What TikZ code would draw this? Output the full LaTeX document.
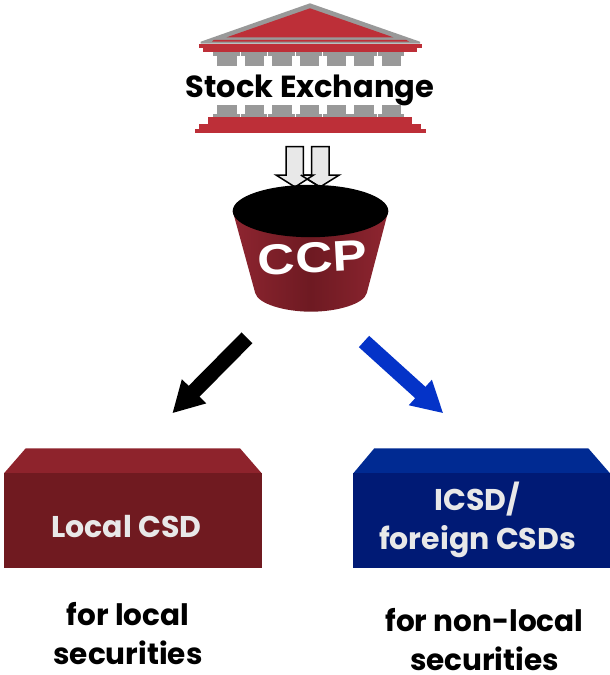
\documentclass[tikz,border=0pt]{standalone}
\usepackage{fontspec}
\setmainfont{Poppins}
\newfontfamily\ccpfont{Liberation Sans}
\usetikzlibrary{arrows.meta}
\definecolor{templered}{HTML}{BD2F38}
\definecolor{templegray}{HTML}{999999}
\definecolor{redfront}{HTML}{701A20}
\definecolor{redtop}{HTML}{8E232C}
\definecolor{bluefront}{HTML}{001A75}
\definecolor{bluetop}{HTML}{002A92}
\definecolor{lighttext}{HTML}{E8E8E8}
\definecolor{arrowblue}{HTML}{0433C8}
\definecolor{ccpedge}{HTML}{8E2530}
\definecolor{ccpmid}{HTML}{6E1A22}
\tikzset{
  x=1pt,y=-1pt,
  redblock/.style={fill=templered,draw=none},
  graycol/.style={fill=templegray,draw=none},
  downarrow/.style={fill=black!9,draw=black,line width=1.5pt,line join=miter},
  bigarrow/.style={line width=15.3pt,-{Triangle[length=31pt,width=32pt]}},
  label/.style={font=\bfseries\fontsize{29.5}{39}\selectfont,align=center,text=black,inner sep=0pt},
  boxlabel/.style={font=\bfseries\fontsize{30}{39.3}\selectfont,align=center,text=lighttext,inner sep=0pt},
}
\begin{document}
\begin{tikzpicture}
\useasboundingbox (0,0) rectangle (610,675);
% temple roof
\fill[templegray] (310,3.3) -- (420,41.7) -- (420,43.5) -- (200.7,43.5) -- (200.7,41.7) -- cycle;
\fill[templered] (310,8.3) -- (393.3,37.3) -- (226.7,37.3) -- cycle;
\fill[templered] (212,41.5) -- (214,39.8) -- (406,39.8) -- (409,41.5) -- cycle;
% temple entablature
\fill[redblock] (199.3,43.5) rectangle (422.3,48.3);
\fill[redblock] (202.7,48.3) rectangle (417.3,52.3);
% columns
\foreach \cx in {0,...,6}{
  \fill[graycol] (217.3+27.4*\cx-4,52.3) rectangle (236.7+27.4*\cx+3.3,55.7);
  \fill[graycol] (217.3+27.4*\cx,55.7) rectangle (236.7+27.4*\cx,65.7);
  \fill[graycol] (217.3+27.4*\cx,105) rectangle (236.7+27.4*\cx,114);
  \fill[graycol] (217.3+27.4*\cx-4,114) rectangle (236.7+27.4*\cx+3.3,117.3);
}
% temple base
\fill[redblock] (208.3,117.3) rectangle (411.7,124);
\fill[redblock] (199.3,124) rectangle (420.7,129.2);
\fill[redblock] (195,129.2) rectangle (425.7,133.3);
\node[label,anchor=base,font=\bfseries\fontsize{30.5}{34}\selectfont] (stock) at (310,97.7) {Stock Exchange};
% double arrows
\draw[downarrow] (311.7,146.7) -- (329,146.7) -- (329,175) -- (339.3,175) -- (320,187) -- (300.7,175) -- (311.7,175) -- cycle;
\draw[downarrow] (286,146.7) -- (303.3,146.7) -- (303.3,175) -- (313.6,175) -- (295,187) -- (276,175) -- (286,175) -- cycle;
\draw[black,line width=1.5pt] (300.7,175) -- (320,187);
% CCP bucket
\shade[left color=ccpedge,right color=ccpedge,middle color=ccpmid]
  (232.7,211) -- (255.2,293) .. controls (258,304) and (285,311.7) .. (311,311.7)
  .. controls (337,311.7) and (364,304) .. (366.8,293) -- (388.3,211) -- cycle;
\fill[black] (310.5,211) ellipse [x radius=77.8,y radius=26.2];
\node[inner sep=0pt,rotate=3,text=white,font=\ccpfont\bfseries\fontsize{43}{43}\selectfont,xscale=1.2] (ccp) at (312.5,257.5) {CCP};
% boxes
\fill[redtop] (25.7,448.3) -- (240,448.3) -- (261.7,473.3) -- (4,473.3) -- cycle;
\fill[redfront] (4,473.3) rectangle (261.7,568.3);
\fill[bluetop] (374.3,448.3) -- (588.3,448.3) -- (610,473.3) -- (353.3,473.3) -- cycle;
\fill[bluefront] (353.3,473.3) rectangle (610,568.3);
\node[boxlabel,anchor=base] (local) at (126.5,537.7) {Local CSD};
\node[boxlabel,anchor=base] (icsd) at (477.5,549.3) {ICSD/\\foreign CSDs};
% connectors
\coordinate (leftstart) at (247,337.8);
\coordinate (lefttip) at (172.3,413.3);
\coordinate (rightstart) at (364,341.5);
\coordinate (righttip) at (443.3,413.3);
\draw[bigarrow,black] (leftstart) -- (lefttip);
\draw[bigarrow,arrowblue] (rightstart) -- (righttip);
% captions
\node[label,anchor=base] (capl) at (128,664) {for local\\securities};
\node[label,anchor=base] (capr) at (484.5,670) {for non-local\\securities};
\end{tikzpicture}
\end{document}
